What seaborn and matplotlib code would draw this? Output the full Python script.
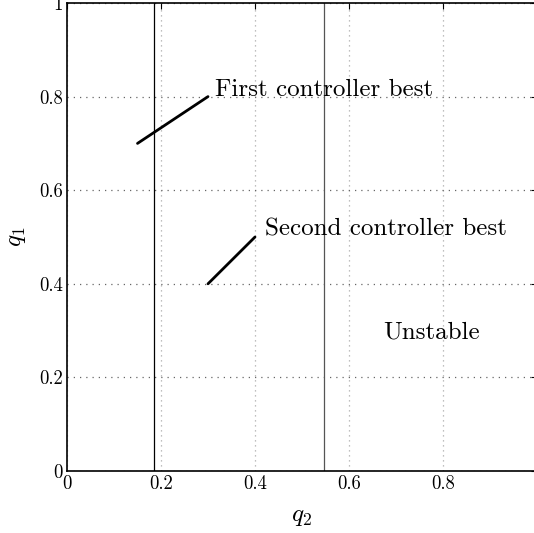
import numpy as np
import pandas as pd
import matplotlib
matplotlib.use("Agg")
import matplotlib.pyplot as plt
import seaborn as sns

# region boundaries (q2 values)
boundary_q2 = [0.185, 0.547]
boundary_colors = ["black", "#555555"]

# pointer lines to the labels
pointer_q2 = [0.15, 0.30, 0.30, 0.40]
pointer_q1 = [0.70, 0.80, 0.40, 0.50]
pointer_id = ["first", "first", "second", "second"]

labels = ["First controller best", "Second controller best", "Unstable"]
label_q2 = [0.315, 0.421, 0.672]
label_q1 = [0.815, 0.517, 0.297]

ticks = [0, 0.2, 0.4, 0.6, 0.8, 1]
tick_labels = ["0", "0.2", "0.4", "0.6", "0.8", "1"]

sns.set_style("white")
plt.rcParams["font.family"] = ["cmr10", "DejaVu Serif"]
plt.rcParams["mathtext.fontset"] = "cm"
plt.rcParams["axes.formatter.use_mathtext"] = True

fig = plt.figure(figsize=(5.34, 5.33), dpi=100)
ax = fig.add_axes([67 / 534, 62 / 533, 470 / 534, 468 / 533])

for q, c in zip(boundary_q2, boundary_colors):
    ax.axvline(q, color=c, linewidth=0.9, zorder=2)

df = pd.DataFrame({"q2": pointer_q2, "q1": pointer_q1, "id": pointer_id})
sns.lineplot(data=df, x="q2", y="q1", units="id", estimator=None,
             color="black", linewidth=2, ax=ax, zorder=3)

for t, x, y in zip(labels, label_q2, label_q1):
    ax.text(x, y, t, fontsize=18, ha="left", va="center", color="black")

ax.set_xlim(0, 1)
ax.set_ylim(0, 1)
ax.set_xticks(ticks)
ax.set_xticklabels(tick_labels)
ax.set_yticks(ticks)
ax.set_yticklabels(tick_labels)
ax.tick_params(direction="in", length=4, labelsize=13.5, pad=3,
               top=True, right=True, colors="black")
ax.xaxis.grid(True, linestyle=(0, (1, 3)), color="#aaaaaa", linewidth=0.9)
ax.yaxis.grid(True, linestyle=(0, (1, 4)), color="#666666", linewidth=0.9)
for s in ax.spines.values():
    s.set_color("black")
    s.set_linewidth(1.2)

ax.set_xlabel("$q_2$", fontsize=18, labelpad=9, color="black")
ax.set_ylabel("$q_1$", fontsize=18, labelpad=8, color="black")

fig.savefig("out.png", dpi=100)
